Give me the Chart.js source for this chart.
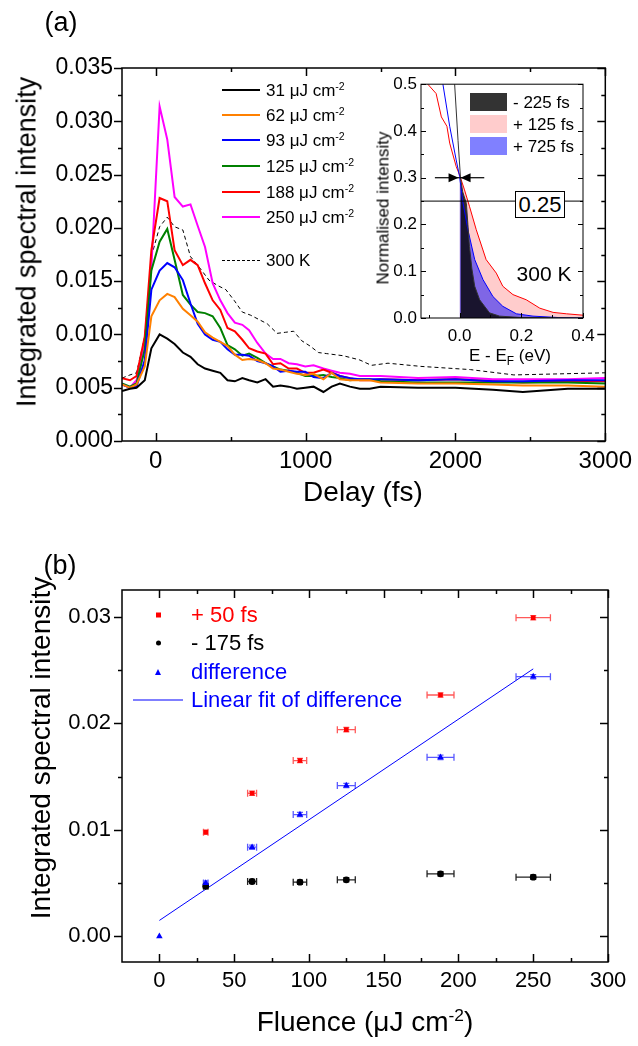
<!DOCTYPE html>
<html>
<head>
<meta charset="utf-8">
<title>Integrated spectral intensity</title>
<script src="https://cdn.jsdelivr.net/npm/chart.js@4.4.1/dist/chart.umd.min.js"></script>
<style>
  body { margin: 0; background: #fff; }
  #fig { position: relative; width: 638px; height: 1046px; overflow: hidden;
         font-family: 'Liberation Sans', Arial, sans-serif; color: #000; }
  #fig canvas { position: absolute; }
  .t { position: absolute; white-space: nowrap; line-height: 1; }
  .c { transform: translate(-50%, -50%); }
  .l { transform: translate(0, -50%); }
  .v { transform: translate(-50%, -50%) rotate(-90deg); }
  sup { font-size: 0.62em; position: relative; top: -0.55em; vertical-align: baseline; line-height: 0; }
  sub { font-size: 0.7em; position: relative; top: 0.3em; vertical-align: baseline; line-height: 0; }
  .box { position: absolute; border: 1px solid #000; background: #fff; font-size: 22px; line-height: 25px; text-align: center; }
</style>
</head>
<body>
<div id="fig">
  <canvas id="chartA" width="638" height="520" style="left:0;top:0"></canvas>
  <canvas id="chartInset" width="248" height="300" style="left:360px;top:70px"></canvas>
  <canvas id="chartB" width="638" height="526" style="left:0;top:520px"></canvas>

  <div class="t c" style="left:61px;top:22px;font-size:27px">(a)</div>
  <div class="t v" style="left:27px;top:242px;font-size:27px">Integrated spectral intensity</div>
  <div class="t c" style="left:363px;top:492px;font-size:28px">Delay (fs)</div>

  <div class="t v" style="left:383px;top:208px;font-size:17px">Normalised intensity</div>
  <div class="t c" style="left:510px;top:355px;font-size:17px">E - E<sub>F</sub> (eV)</div>
  <div class="box" style="left:515px;top:191px;width:48px;height:25px">0.25</div>
  <div class="t c" style="left:544px;top:273px;font-size:21px">300 K</div>

  <div class="t c" style="left:60px;top:565px;font-size:27px">(b)</div>
  <div class="t v" style="left:41px;top:748px;font-size:28px">Integrated spectral intensity</div>
  <div class="t c" style="left:365px;top:1022px;font-size:28px">Fluence (&mu;J cm<sup>-2</sup>)</div>
</div>

<script>
const FONT = "'Liberation Sans', Arial, sans-serif";
Chart.defaults.font.family = FONT;
Chart.defaults.color = '#000';

// ---------- panel (a): integrated intensity vs delay ----------
const delay = [-225, -172, -128, -73, -29, 26, 77, 126, 181, 232, 280, 329, 380, 431, 479,
  528, 578, 623, 678, 733, 783, 832, 887, 942, 998, 1053, 1119, 1174, 1229, 1296,
  1362, 1428, 1500, 1750, 2000, 2250, 2450, 2750, 3000];

const f31 = [0.0047, 0.0049, 0.0050, 0.0057, 0.0087, 0.0100, 0.0096, 0.0091, 0.0083, 0.0079,
  0.0072, 0.0068, 0.0066, 0.0064, 0.0057, 0.0056, 0.0059, 0.0057, 0.0055, 0.0058,
  0.0051, 0.0052, 0.0051, 0.0049, 0.0050, 0.0051, 0.0046, 0.0051, 0.0054, 0.0051,
  0.0049, 0.0049, 0.0051, 0.0050, 0.0050, 0.0048, 0.0046, 0.0049, 0.0049];
const f62 = [0.0053, 0.0050, 0.0053, 0.0070, 0.0117, 0.0132, 0.0138, 0.0135, 0.0124, 0.0118,
  0.0112, 0.0102, 0.0097, 0.0093, 0.0089, 0.0081, 0.0076, 0.0077, 0.0076, 0.0073,
  0.0068, 0.0067, 0.0065, 0.0063, 0.0062, 0.0063, 0.0058, 0.0064, 0.0058, 0.0057,
  0.0057, 0.0057, 0.0055, 0.0054, 0.0054, 0.0053, 0.0052, 0.0052, 0.0051];
const f93 = [0.0053, 0.0050, 0.0051, 0.0076, 0.0142, 0.0160, 0.0167, 0.0163, 0.0151, 0.0129,
  0.0110, 0.0100, 0.0095, 0.0093, 0.0086, 0.0081, 0.0081, 0.0080, 0.0075, 0.0073,
  0.0070, 0.0065, 0.0066, 0.0065, 0.0065, 0.0060, 0.0059, 0.0064, 0.0061, 0.0059,
  0.0058, 0.0058, 0.0058, 0.0057, 0.0058, 0.0056, 0.0056, 0.0057, 0.0057];
const f125 = [0.0054, 0.0051, 0.0054, 0.0086, 0.0160, 0.0187, 0.0199, 0.0170, 0.0137, 0.0128,
  0.0121, 0.0120, 0.0117, 0.0106, 0.0090, 0.0086, 0.0080, 0.0082, 0.0078, 0.0073,
  0.0070, 0.0067, 0.0066, 0.0064, 0.0061, 0.0061, 0.0062, 0.0060, 0.0059, 0.0057,
  0.0058, 0.0058, 0.0056, 0.0055, 0.0055, 0.0055, 0.0055, 0.0055, 0.0054];
const f188 = [0.0059, 0.0057, 0.0061, 0.0098, 0.0179, 0.0228, 0.0225, 0.0179, 0.0165, 0.0170,
  0.0165, 0.0148, 0.0132, 0.0123, 0.0106, 0.0103, 0.0095, 0.0087, 0.0084, 0.0082,
  0.0072, 0.0073, 0.0068, 0.0068, 0.0064, 0.0064, 0.0067, 0.0064, 0.0061, 0.0059,
  0.0057, 0.0057, 0.0058, 0.0057, 0.0058, 0.0056, 0.0055, 0.0056, 0.0056];
const f250 = [0.0053, 0.0050, 0.0057, 0.0092, 0.0163, 0.0314, 0.0283, 0.0229, 0.0220, 0.0222,
  0.0202, 0.0182, 0.0148, 0.0132, 0.0120, 0.0111, 0.0109, 0.0104, 0.0092, 0.0082,
  0.0077, 0.0077, 0.0073, 0.0072, 0.0070, 0.0071, 0.0068, 0.0066, 0.0064, 0.0063,
  0.0061, 0.0061, 0.0061, 0.0059, 0.0060, 0.0058, 0.0058, 0.0058, 0.0059];

const delay300K = [-225, -172, -128, -73, -29, 26, 77, 126, 181, 232, 280, 355, 412, 468, 523,
  578, 634, 689, 744, 810, 865, 920, 975, 1031, 1086, 1141, 1196, 1252, 1307, 1362,
  1439, 1550, 1770, 2100, 2390, 3000];
const k300 = [0.0059, 0.0062, 0.0064, 0.0098, 0.0173, 0.0201, 0.0210, 0.0201, 0.0198, 0.0173,
  0.0165, 0.0151, 0.0146, 0.0142, 0.0132, 0.0121, 0.0118, 0.0114, 0.0110, 0.0101,
  0.0102, 0.0103, 0.0094, 0.0089, 0.0083, 0.0082, 0.0081, 0.0080, 0.0078, 0.0076,
  0.0071, 0.0073, 0.0070, 0.0067, 0.0062, 0.0064];

const fluenceLabels = ['31', '62', '93', '125', '188', '250'];
const seriesA = [f31, f62, f93, f125, f188, f250];
const colorsA = ['#000000', '#ff8000', '#0000ff', '#008000', '#ff0000', '#ff00ff'];

const delayMajor = [0, 1000, 2000, 3000];
const delayMinor = [500, 1500, 2500];
const intMajorA = [0, 0.005, 0.010, 0.015, 0.020, 0.025, 0.030, 0.035];
const intMinorA = [0.0025, 0.0075, 0.0125, 0.0175, 0.0225, 0.0275, 0.0325];

// ---------- inset: normalised intensity vs E - EF ----------
const eRed = [-0.125, -0.103, -0.076, -0.059, -0.041, -0.032, -0.011, 0, 0.016, 0.032, 0.054,
  0.086, 0.119, 0.14, 0.173, 0.216, 0.26, 0.303, 0.346, 0.4];
const iRed = [0.53, 0.5, 0.48, 0.43, 0.41, 0.374, 0.324, 0.306, 0.274, 0.239, 0.189,
  0.125, 0.096, 0.068, 0.05, 0.039, 0.021, 0.012, 0.009, 0.006];
const eBlue = [-0.07, -0.054, -0.032, -0.011, 0, 0.011, 0.027, 0.049, 0.076, 0.108, 0.14,
  0.184, 0.238, 0.32, 0.4];
const iBlue = [0.6, 0.5, 0.41, 0.338, 0.303, 0.246, 0.189, 0.125, 0.082, 0.046, 0.025,
  0.009, 0.004, 0.001, 0];
const eBlack = [-0.03, -0.016, -0.005, 0.003, 0.01, 0.022, 0.027, 0.032, 0.04, 0.049, 0.065,
  0.097, 0.13, 0.2, 0.4];
const iBlack = [0.68, 0.5, 0.38, 0.30, 0.27, 0.245, 0.2, 0.153, 0.105, 0.068, 0.039,
  0.011, 0.004, 0.001, 0];
const insetLabels = ['- 225 fs', '+ 125 fs', '+ 725 fs'];
const insetFill = ['rgba(0,0,0,0.8)', 'rgba(255,0,0,0.2)', 'rgba(0,0,255,0.5)'];
const refLevel = 0.25;
const crossE = 0.0, crossI = 0.3, arrowSpan = 0.08;
const eMajor = [0, 0.2, 0.4];
const eMinor = [-0.1, 0.1, 0.3];
const nMajor = [0, 0.1, 0.2, 0.3, 0.4, 0.5];
const nMinor = [0.05, 0.15, 0.25, 0.35, 0.45];

// ---------- panel (b): intensity vs fluence ----------
const fluence = [31, 62, 94, 125, 188, 250];
const fluenceErr = [1.5, 3, 4.5, 6, 9, 11.5];
const plus50 = [0.00978, 0.01343, 0.0165, 0.0194, 0.02265, 0.0299];
const minus175 = [0.0047, 0.00515, 0.00509, 0.00531, 0.00587, 0.00556];
const intErr = [0.0002, 0.0002, 0.0002, 0.0002, 0.0002, 0.0002];
const diffFluence = [0, 31, 62, 94, 125, 188, 250];
const diffFluenceErr = [0, 1.5, 3, 4.5, 6, 9, 11.5];
const diffVals = [0, 0.0050, 0.00837, 0.01143, 0.01415, 0.0168, 0.02437];
const diffErr = [0, 0.0002, 0.0002, 0.0002, 0.0002, 0.0002, 0.0002];
const fitX = [0, 250];
const fitY = [0.0015, 0.0251];

const fluMajor = [0, 50, 100, 150, 200, 250, 300];
const fluMinor = [25, 75, 125, 175, 225, 275];
const intMajorB = [0, 0.01, 0.02, 0.03];
const intMinorB = [0.005, 0.015, 0.025];

const pts = (xs, ys) => xs.map((x, i) => ({ x: x, y: ys[i] }));

// frame + ticks drawn from the scales
const frame = {
  id: 'frame',
  beforeDraw(chart, args, o) {
    if (!o.white) return;
    const a = chart.chartArea;
    chart.ctx.save();
    chart.ctx.fillStyle = '#fff';
    chart.ctx.fillRect(a.left, a.top, a.right - a.left, a.bottom - a.top);
    chart.ctx.restore();
  },
  afterDatasetsDraw(chart, args, o) {
    const { ctx, chartArea: a, scales: { x, y } } = chart;
    ctx.save();
    ctx.strokeStyle = '#000';
    ctx.lineWidth = o.lw;
    ctx.strokeRect(a.left, a.top, a.right - a.left, a.bottom - a.top);
    const draw = (scale, vals, len, side, dir) => {
      if (!dir) return;
      vals.forEach(v => {
        const p = Math.round(scale.getPixelForValue(v)) + 0.5;
        ctx.beginPath();
        if (side === 'left' || side === 'right') {
          const x0 = side === 'left' ? a.left : a.right;
          const s = (side === 'left' ? 1 : -1) * (dir === 'in' ? 1 : -1);
          ctx.moveTo(x0, p); ctx.lineTo(x0 + s * len, p);
        } else {
          const y0 = side === 'top' ? a.top : a.bottom;
          const s = (side === 'top' ? 1 : -1) * (dir === 'in' ? 1 : -1);
          ctx.moveTo(p, y0); ctx.lineTo(p, y0 + s * len);
        }
        ctx.stroke();
      });
    };
    ['left', 'right'].forEach(sd => {
      draw(y, o.yMajor, o.major, sd, o[sd]);
      draw(y, o.yMinor, o.minor, sd, o[sd]);
    });
    ['top', 'bottom'].forEach(sd => {
      draw(x, o.xMajor, o.major, sd, o[sd]);
      draw(x, o.xMinor, o.minor, sd, o[sd]);
    });
    ctx.restore();
  }
};

function axis(min, max, major, fmt, size, pad, fitFn) {
  return {
    type: 'linear', min: min, max: max,
    grid: { display: false, drawTicks: false },
    border: { display: false },
    ticks: { font: { size: size }, color: '#000', padding: pad, callback: fmt },
    afterBuildTicks: s => { s.ticks = major.map(v => ({ value: v })); },
    afterFit: fitFn
  };
}

const baseOpts = {
  responsive: false,
  animation: false,
  events: [],
  plugins: { legend: { display: false }, tooltip: { enabled: false } }
};

// ---- chart (a)
const dsA = seriesA.map((s, i) => ({
  data: pts(delay, s), borderColor: colorsA[i], borderWidth: 2,
  pointRadius: 0, tension: 0, fill: false
}));
dsA.push({
  data: pts(delay300K, k300), borderColor: '#000', borderWidth: 1, borderDash: [4, 3],
  pointRadius: 0, tension: 0, fill: false
});

new Chart(document.getElementById('chartA'), {
  type: 'line',
  data: { datasets: dsA },
  options: Object.assign({}, baseOpts, {
    layout: { padding: { top: 68, right: 30, left: 0, bottom: 0 } },
    scales: {
      x: axis(-225, 3000, delayMajor, v => String(v), 24, 6, s => { s.height = 79; }),
      y: axis(0, 0.035, intMajorA, v => v.toFixed(3), 23, 9, s => { s.width = 122; })
    },
    plugins: Object.assign({}, baseOpts.plugins, {
      frame: { lw: 1.5, major: 8, minor: 4, left: 'out', right: 'in', top: 'in', bottom: 'in',
        xMajor: delayMajor, xMinor: delayMinor, yMajor: intMajorA, yMinor: intMinorA }
    })
  }),
  plugins: [frame]
});

// ---- inset
const fromZero = (xs, ys) => pts(xs, ys).filter(p => p.x >= 0);
const arrows = {
  id: 'arrows',
  afterDatasetsDraw(chart) {
    const { ctx, scales: { x, y } } = chart;
    const cx = x.getPixelForValue(crossE), cy = y.getPixelForValue(crossI);
    ctx.save();
    ctx.strokeStyle = '#000'; ctx.fillStyle = '#000'; ctx.lineWidth = 1.2;
    [crossE - arrowSpan, crossE + arrowSpan].forEach(e => {
      const px = x.getPixelForValue(e);
      const d = Math.sign(cx - px);
      ctx.beginPath(); ctx.moveTo(px, cy); ctx.lineTo(cx, cy); ctx.stroke();
      ctx.beginPath();
      ctx.moveTo(cx - d * 1, cy);
      ctx.lineTo(cx - d * 11, cy - 4.5);
      ctx.lineTo(cx - d * 11, cy + 4.5);
      ctx.closePath(); ctx.fill();
    });
    ctx.restore();
  }
};

new Chart(document.getElementById('chartInset'), {
  type: 'line',
  data: {
    datasets: [
      { data: fromZero(eRed, iRed), backgroundColor: insetFill[1], borderWidth: 0, fill: 'origin', pointRadius: 0, order: 9 },
      { data: fromZero(eBlue, iBlue), backgroundColor: insetFill[2], borderWidth: 0, fill: 'origin', pointRadius: 0, order: 8 },
      { data: fromZero(eBlack, iBlack), backgroundColor: insetFill[0], borderWidth: 0, fill: 'origin', pointRadius: 0, order: 7 },
      { data: pts(eRed, iRed), borderColor: '#ff0000', borderWidth: 1, fill: false, pointRadius: 0, order: 3 },
      { data: pts(eBlue, iBlue), borderColor: '#0000ff', borderWidth: 1, fill: false, pointRadius: 0, order: 2 },
      { data: pts(eBlack, iBlack), borderColor: '#333', borderWidth: 1, fill: false, pointRadius: 0, order: 1 },
      { data: [{ x: -0.125, y: refLevel }, { x: 0.4, y: refLevel }], borderColor: '#000', borderWidth: 1, fill: false, pointRadius: 0, order: 0 }
    ]
  },
  options: Object.assign({}, baseOpts, {
    layout: { padding: { top: 14, right: 25, left: 0, bottom: 0 } },
    scales: {
      x: axis(-0.125, 0.4, eMajor, v => v.toFixed(1), 17, 8, s => { s.height = 52; }),
      y: axis(0, 0.5, nMajor, v => v.toFixed(1), 17, 4, s => { s.width = 61; })
    },
    plugins: Object.assign({}, baseOpts.plugins, {
      frame: { lw: 1, major: 5, minor: 3, white: true, left: 'in', bottom: 'in', right: 'in',
        xMajor: eMajor, xMinor: eMinor, yMajor: nMajor, yMinor: nMinor }
    })
  }),
  plugins: [frame, arrows]
});

// ---- chart (b)
const errorBars = {
  id: 'errorBars',
  beforeDatasetsDraw(chart) {
    const { ctx, scales: { x, y } } = chart;
    chart.data.datasets.forEach(ds => {
      if (!ds.errX) return;
      ctx.save();
      ctx.strokeStyle = ds.barColor;
      ctx.lineWidth = 1.3;
      ds.data.forEach((p, j) => {
        if (!ds.errX[j]) return;
        const px = x.getPixelForValue(p.x), py = y.getPixelForValue(p.y);
        const x0 = x.getPixelForValue(p.x - ds.errX[j]), x1 = x.getPixelForValue(p.x + ds.errX[j]);
        const y0 = y.getPixelForValue(p.y - ds.errY[j]), y1 = y.getPixelForValue(p.y + ds.errY[j]);
        ctx.beginPath();
        ctx.moveTo(x0, py); ctx.lineTo(x1, py);
        ctx.moveTo(x0, py - 3.5); ctx.lineTo(x0, py + 3.5);
        ctx.moveTo(x1, py - 3.5); ctx.lineTo(x1, py + 3.5);
        ctx.moveTo(px, y0); ctx.lineTo(px, y1);
        ctx.moveTo(px - 3, y0); ctx.lineTo(px + 3, y0);
        ctx.moveTo(px - 3, y1); ctx.lineTo(px + 3, y1);
        ctx.stroke();
      });
      ctx.restore();
    });
  }
};

new Chart(document.getElementById('chartB'), {
  type: 'line',
  data: {
    datasets: [
      { data: pts(fitX, fitY), borderColor: '#0000ff', borderWidth: 1, pointRadius: 0, fill: false, order: 4 },
      { data: pts(fluence, minus175), showLine: false, pointStyle: 'circle', pointRadius: 3.4,
        pointBackgroundColor: '#000', pointBorderColor: '#000', pointBorderWidth: 0,
        errX: fluenceErr, errY: intErr, barColor: '#222', order: 3 },
      { data: pts(diffFluence, diffVals), showLine: false, pointStyle: 'triangle', pointRadius: 3.8,
        pointBackgroundColor: '#0000ff', pointBorderColor: '#0000ff', pointBorderWidth: 0,
        errX: diffFluenceErr, errY: diffErr, barColor: 'rgba(0,0,255,0.65)', order: 2 },
      { data: pts(fluence, plus50), showLine: false, pointStyle: 'rect', pointRadius: 3.3,
        pointBackgroundColor: '#ff0000', pointBorderColor: '#ff0000', pointBorderWidth: 0,
        errX: fluenceErr, errY: intErr, barColor: 'rgba(255,0,0,0.65)', order: 1 }
    ]
  },
  options: Object.assign({}, baseOpts, {
    layout: { padding: { top: 70, right: 30, left: 0, bottom: 0 } },
    scales: {
      x: axis(-25, 300, fluMajor, v => String(v), 22, 6, s => { s.height = 84; }),
      y: axis(-0.0024, 0.0325, intMajorB, v => v.toFixed(2), 22, 11, s => { s.width = 122; })
    },
    plugins: Object.assign({}, baseOpts.plugins, {
      frame: { lw: 1.5, major: 8, minor: 4, left: 'out', right: 'in', top: 'in', bottom: 'in',
        xMajor: fluMajor, xMinor: fluMinor, yMajor: intMajorB, yMinor: intMinorB }
    })
  }),
  plugins: [frame, errorBars]
});

// ---------- HTML legends ----------
const fig = document.getElementById('fig');
function add(html, style) {
  const d = document.createElement('div');
  d.innerHTML = html;
  d.setAttribute('style', style);
  fig.appendChild(d);
  return d;
}

const rowsA = [90, 115, 140, 166, 192, 217];
fluenceLabels.forEach((lab, i) => {
  add('', `position:absolute;left:222px;top:${rowsA[i] - 1}px;width:38px;height:2px;background:${colorsA[i]}`);
  add(`${lab} &mu;J cm<sup>-2</sup>`, `position:absolute;left:266px;top:${rowsA[i]}px;font-size:17px;line-height:1;white-space:nowrap;transform:translateY(-50%)`);
});
add('', 'position:absolute;left:222px;top:260px;width:38px;height:0;border-top:1px dashed #000');
add('300 K', 'position:absolute;left:266px;top:260px;font-size:17px;line-height:1;white-space:nowrap;transform:translateY(-50%)');

const rowsInset = [102, 124, 146];
const swatchInset = ['#333333', '#ffcccc', '#8080ff'];
insetLabels.forEach((lab, i) => {
  add('', `position:absolute;left:470px;top:${rowsInset[i] - 9}px;width:37px;height:18px;background:${swatchInset[i]}`);
  add(lab, `position:absolute;left:513px;top:${rowsInset[i]}px;font-size:17px;line-height:1;white-space:nowrap;transform:translateY(-50%)`);
});

const rowsB = [615, 643, 672, 700];
const legB = [
  { text: '+ 50 fs', color: '#ff0000', mark: 'width:5px;height:5px;background:#ff0000;left:156px' },
  { text: '- 175 fs', color: '#000000', mark: 'width:5px;height:5px;border-radius:50%;background:#000;left:156px' },
  { text: 'difference', color: '#0000ff', mark: 'width:0;height:0;border-left:3px solid transparent;border-right:3px solid transparent;border-bottom:6px solid #0000ff;left:155px' },
  { text: 'Linear fit of difference', color: '#0000ff', mark: 'width:50px;height:1px;background:#0000ff;left:133px' }
];
legB.forEach((it, i) => {
  add('', `position:absolute;top:${rowsB[i]}px;transform:translateY(-50%);${it.mark}`);
  add(it.text, `position:absolute;left:191px;top:${rowsB[i]}px;font-size:22px;line-height:1;color:${it.color};white-space:nowrap;transform:translateY(-50%)`);
});
</script>
</body>
</html>
